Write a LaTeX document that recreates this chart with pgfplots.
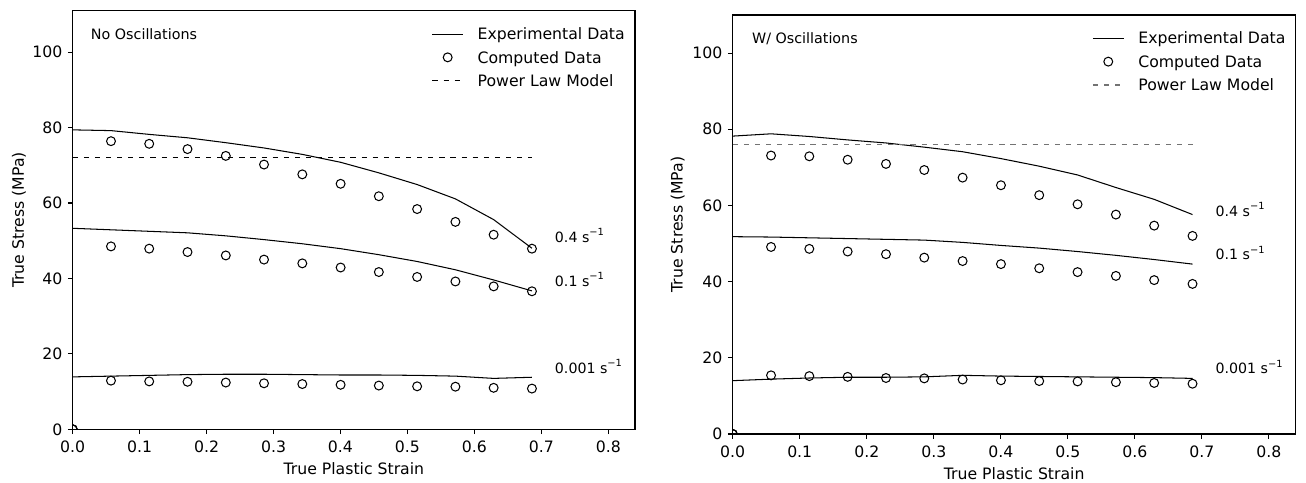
\documentclass[border=0pt]{standalone}
\usepackage{fontspec}
\setmainfont{DejaVu Sans}
\usepackage{pgfplots}
\usepackage{pgfplotstable}
\pgfplotsset{compat=1.18}

% strain, then stress for each rate: experimental (e) and computed (c)
\pgfplotstableread{
x      e4    c4    e1    c1    e001  c001
0.0000 79.4  0.0   53.3  0.0   13.9  0.0
0.0572 79.2  76.4  52.9  48.5  14.1  12.9
0.1143 78.2  75.7  52.5  47.9  14.3  12.7
0.1715 77.3  74.3  52.1  47.0  14.5  12.6
0.2287 76.0  72.5  51.3  46.1  14.6  12.4
0.2858 74.6  70.2  50.3  45.0  14.6  12.2
0.3430 72.9  67.6  49.2  44.0  14.5  12.0
0.4002 70.8  65.1  47.9  42.9  14.4  11.8
0.4573 68.0  61.8  46.3  41.7  14.4  11.6
0.5145 64.9  58.4  44.5  40.4  14.3  11.4
0.5717 61.1  55.0  42.3  39.2  14.1  11.3
0.6288 55.6  51.6  39.6  37.9  13.5  11.0
0.6860 48.0  47.9  36.7  36.6  13.8  10.8
}\noosc

\pgfplotstableread{
x      e4    c4    e1    c1    e001  c001
0.0000 78.2  0.0   51.8  0.0   14.0  0.0
0.0572 78.8  73.1  51.7  49.1  14.4  15.4
0.1143 78.1  72.9  51.5  48.6  14.7  15.2
0.1715 77.2  72.0  51.3  47.9  14.9  15.0
0.2287 76.4  70.9  51.1  47.2  14.9  14.7
0.2858 75.3  69.3  50.9  46.3  15.0  14.6
0.3430 74.1  67.3  50.3  45.4  15.4  14.3
0.4002 72.3  65.3  49.5  44.6  15.2  14.1
0.4573 70.3  62.7  48.8  43.5  15.1  13.9
0.5145 68.0  60.3  47.9  42.5  15.0  13.8
0.5717 64.7  57.6  46.9  41.5  14.9  13.6
0.6288 61.6  54.7  45.8  40.4  14.8  13.4
0.6860 57.6  52.0  44.6  39.4  14.6  13.2
}\withosc

\newcommand{\lblfont}{\fontsize{11.3}{13.5}\selectfont}
\newcommand{\annfont}{\fontsize{10.2}{12}\selectfont}
\newcommand{\rate}[1]{#1 s\raisebox{4.6pt}{\fontsize{7.1}{8}\selectfont −1}}

\tikzset{annot/.style={anchor=base west, inner sep=0pt, font=\annfont}}

\pgfplotsset{
  ssplot/.style={
    scale only axis,
    xmin=0, xmax=0.84, ymin=0,
    xtick={0,0.1,...,0.8}, ytick={0,20,...,100},
    tick pos=left, tick align=outside, major tick length=3.5pt,
    axis line style={line width=0.8pt},
    every tick/.style={black, line width=0.8pt},
    clip marker paths=true,
    /pgf/number format/assume math mode=true,
    tick label style={font=\lblfont, inner sep=0pt},
    xticklabel style={anchor=north, yshift=-4.7pt,
      /pgf/number format/.cd, fixed, fixed zerofill, precision=1},
    yticklabel style={anchor=east, xshift=-3.7pt},
    xlabel={True Plastic Strain},
    ylabel={True Stress (MPa)},
    xlabel style={font=\lblfont, at={(axis description cs:0.5,0)}, anchor=north,
      inner sep=0pt, yshift=-24pt},
    legend cell align=left,
    legend style={draw=none, fill=none, inner sep=0pt,
      at={(rel axis cs:1,1)}, anchor=north east,
      xshift=-7.2pt, yshift=-11.1pt,
      row sep=5.8pt, column sep=10.2pt,
      nodes={inner sep=0pt, text height=9.6pt, text depth=1.4pt},
      font=\lblfont},
  },
  expline/.style={black, line width=0.75pt, mark=none},
  compmark/.style={black, only marks, mark=o, mark size=3.2pt,
    mark options={line width=0.75pt}},
  legline/.style={legend image code/.code={\draw[##1] (0pt,0pt) -- (22pt,0pt);}},
  legmark/.style={legend image code/.code={\path (0pt,0pt) (22pt,0pt);
      \draw[##1] plot coordinates {(11pt,0pt)};}},
}

\begin{document}
\begin{tikzpicture}

% left panel
\begin{axis}[ssplot, at={(52.34pt,38.66pt)}, anchor=south west,
  width=404.9pt, height=301.4pt, ymax=111,
  ylabel style={font=\lblfont, at={(axis description cs:-0.0866,0.5)},
    anchor=base, inner sep=0pt}]
  \addlegendimage{legline, black, line width=0.75pt}
  \addlegendentry{Experimental Data}
  \addlegendimage{legmark, only marks, mark=o, mark size=3.2pt, line width=0.75pt}
  \addlegendentry{Computed Data}
  \addlegendimage{legline, black, line width=0.75pt, dash pattern=on 3.7pt off 4.3pt}
  \addlegendentry{Power Law Model}

  \addplot[expline, forget plot] table[x=x, y=e4] {\noosc};
  \addplot[expline, forget plot] table[x=x, y=e1] {\noosc};
  \addplot[expline, forget plot] table[x=x, y=e001] {\noosc};
  \addplot[compmark, forget plot] table[x=x, y=c4] {\noosc};
  \addplot[compmark, forget plot] table[x=x, y=c1] {\noosc};
  \addplot[compmark, forget plot] table[x=x, y=c001] {\noosc};
  \addplot[black, line width=0.75pt, dash pattern=on 3.7pt off 4.3pt, forget plot]
    coordinates {(0,72.0) (0.686,72.0)};

  \node[annot, font=\fontsize{10.3}{12}\selectfont] at (rel axis cs:0.032,0.932) {No Oscillations};
  \node[annot] at (axis cs:0.72,49.6) {\rate{0.4}};
  \node[annot] at (axis cs:0.72,37.9) {\rate{0.1}};
  \node[annot] at (axis cs:0.72,14.9) {\rate{0.001}};
\end{axis}

% right panel
\begin{axis}[ssplot, at={(527.54pt,35.28pt)}, anchor=south west,
  width=405.4pt, height=301.7pt, ymax=110,
  ylabel style={font=\lblfont, at={(axis description cs:-0.0888,0.5)},
    anchor=base, inner sep=0pt}]
  \addlegendimage{legline, black, line width=0.75pt}
  \addlegendentry{Experimental Data}
  \addlegendimage{legmark, only marks, mark=o, mark size=3.2pt, line width=0.75pt}
  \addlegendentry{Computed Data}
  \addlegendimage{legline, black!55, line width=0.9pt, dash pattern=on 3.7pt off 4.3pt}
  \addlegendentry{Power Law Model}

  \addplot[expline, forget plot] table[x=x, y=e4] {\withosc};
  \addplot[expline, forget plot] table[x=x, y=e1] {\withosc};
  \addplot[expline, forget plot] table[x=x, y=e001] {\withosc};
  \addplot[compmark, forget plot] table[x=x, y=c4] {\withosc};
  \addplot[compmark, forget plot] table[x=x, y=c1] {\withosc};
  \addplot[compmark, forget plot] table[x=x, y=c001] {\withosc};
  \addplot[black!55, line width=0.9pt, dash pattern=on 3.7pt off 4.3pt, forget plot]
    coordinates {(0,76.0) (0.686,76.0)};

  \node[annot, font=\fontsize{10.3}{12}\selectfont] at (rel axis cs:0.034,0.931) {W/ Oscillations};
  \node[annot] at (axis cs:0.72,57.2) {\rate{0.4}};
  \node[annot] at (axis cs:0.72,45.8) {\rate{0.1}};
  \node[annot] at (axis cs:0.72,15.8) {\rate{0.001}};
\end{axis}

\pgfresetboundingbox
\path[use as bounding box] (0pt,0pt) rectangle (940.32pt,347.76pt);
\end{tikzpicture}
\end{document}
